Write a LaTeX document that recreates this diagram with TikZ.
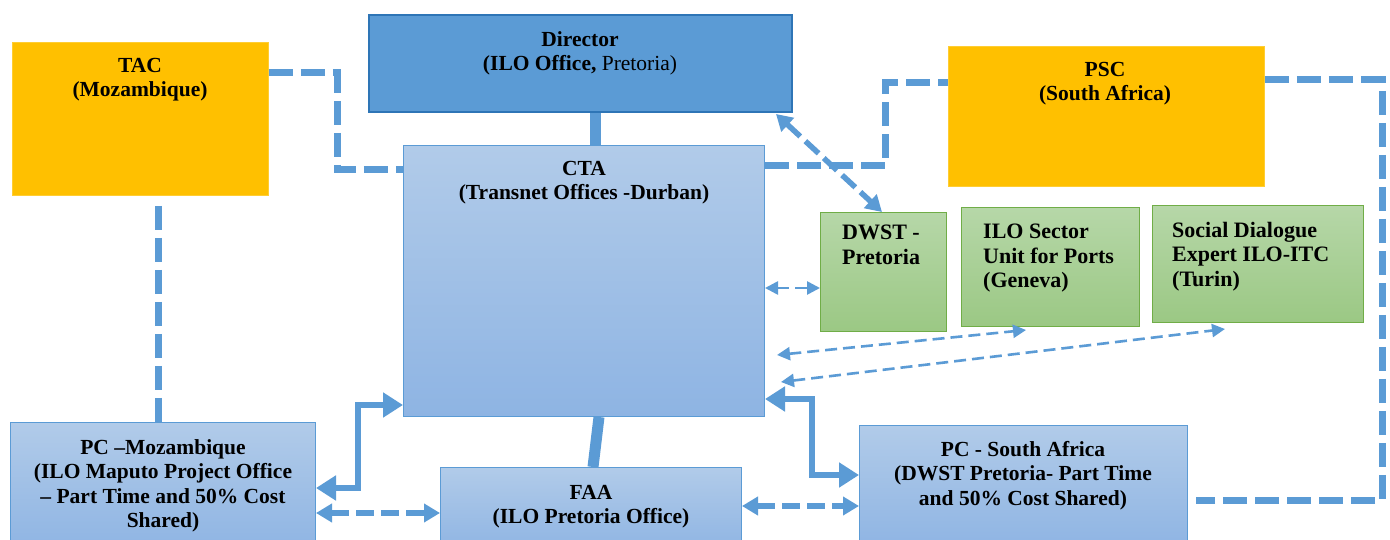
\documentclass[tikz,border=0pt]{standalone}
\usepackage{fontspec}
\setmainfont{Liberation Serif}
\usetikzlibrary{arrows.meta,calc}
\definecolor{orng}{HTML}{FFC000}
\definecolor{dirblue}{HTML}{5B9BD5}
\definecolor{dirborder}{HTML}{2E75B6}
\definecolor{lbtop}{HTML}{B1CBE9}
\definecolor{lbbot}{HTML}{8EB4E3}
\definecolor{gtop}{HTML}{B6D7A8}
\definecolor{gbot}{HTML}{9BC884}
\definecolor{gborder}{HTML}{70AD47}
\definecolor{conn}{HTML}{5B9BD5}
\tikzset{
  base/.style={rectangle, inner sep=0pt, anchor=north west},
  orangebox/.style={base, fill=orng, draw=orng!80!white, line width=0.8pt},
  dirbox/.style={base, fill=dirblue, draw=dirborder, line width=2pt},
  bluebox/.style={base, top color=lbtop, bottom color=lbbot, draw=conn, line width=1pt},
  greenbox/.style={base, top color=gtop, bottom color=gbot, draw=gborder, line width=1.2pt},
  txt/.style={anchor=north, align=center, inner sep=0pt, font=\bfseries\fontsize{21.5}{24.5}\selectfont},
  gtxt/.style={anchor=north west, align=left, inner sep=0pt, font=\bfseries\fontsize{22}{24.5}\selectfont},
  thickdash/.style={draw=conn, line width=7pt, dash pattern=on 24pt off 8pt},
  solidline/.style={draw=conn, line width=11pt},
  bigtips/.style={draw=conn, line width=6.5pt, {Triangle[length=20pt,width=24pt]}-{Triangle[length=20pt,width=24pt]}},
  dashtips/.style={draw=conn, line width=5.5pt, dash pattern=on 18pt off 7pt, {Triangle[length=16pt,width=18pt]}-{Triangle[length=16pt,width=18pt]}},
  thintips/.style={draw=conn, line width=2.6pt, dash pattern=on 12pt off 6pt, {Triangle[length=13pt,width=13pt]}-{Triangle[length=13pt,width=13pt]}},
}
\begin{document}
\begin{tikzpicture}[x=1pt,y=-1pt]
\useasboundingbox (0,0) rectangle (1390,540);
\clip (0,0) rectangle (1390,540);
\fill[white] (0,0) rectangle (1390,540);

% boxes
\node[orangebox, minimum width=256pt, minimum height=153pt] (TAC) at (12,42) {};
\node[dirbox, minimum width=423pt, minimum height=97pt] (DIR) at (368,14) {};
\node[bluebox, minimum width=361pt, minimum height=271pt] (CTA) at (403,145) {};
\node[orangebox, minimum width=316pt, minimum height=140pt] (PSC) at (948,46) {};
\node[greenbox, minimum width=126pt, minimum height=119pt] (DWST) at (820,212) {};
\node[greenbox, minimum width=178pt, minimum height=119pt] (ILO) at (961,207) {};
\node[greenbox, minimum width=211pt, minimum height=117pt] (SDE) at (1152,205) {};
\node[bluebox, minimum width=305pt, minimum height=130pt] (PCM) at (10,422) {};
\node[bluebox, minimum width=301pt, minimum height=85pt] (FAA) at (440,467) {};
\node[bluebox, minimum width=328pt, minimum height=125pt] (PCS) at (859,425) {};

% texts
\node[txt] (TACt) at (140,58) {TAC\\(Mozambique)};
\node[txt] (DIRt) at (580,31) {Director\\(ILO Office, \mdseries Pretoria)};
\node[txt] (CTAt) at (584,161) {CTA\\(Transnet Offices -Durban)};
\node[txt] (PSCt) at (1105,62) {PSC\\(South Africa)};
\node[gtxt] (DWSTt) at (842,225) {DWST -\\Pretoria};
\node[gtxt] (ILOt) at (983,224) {ILO Sector\\Unit for Ports\\(Geneva)};
\node[gtxt] (SDEt) at (1172,222) {Social Dialogue\\Expert ILO-ITC\\(Turin)};
\node[txt] (PCMt) at (163,439) {PC --Mozambique\\(ILO Maputo Project Office\\-- Part Time and 50\% Cost\\Shared)};
\node[txt] (FAAt) at (591,485) {FAA\\(ILO Pretoria Office)};
\node[txt] (PCSt) at (1023,441) {PC - South Africa\\(DWST Pretoria- Part Time\\and 50\% Cost Shared)};

% helper coordinates
\coordinate (y73) at (0,73);
\coordinate (y170) at (0,170);
\coordinate (y166) at (0,166);
\coordinate (y83) at (0,83);
\coordinate (y80) at (0,80);
\coordinate (y500) at (0,500);
\coordinate (x158) at (158,0);
\coordinate (x595) at (595,0);
\coordinate (y405) at (0,405);
\coordinate (y488) at (0,488);
\coordinate (y399) at (0,399);
\coordinate (y475) at (0,475);
\coordinate (y513) at (0,513);
\coordinate (y506) at (0,506);
\coordinate (y288) at (0,288);

% solid vertical lines
\draw[solidline] (DIR.south -| x595) -- (CTA.north -| x595);
\draw[solidline] ($(CTA.south -| x595)+(4,0)$) -- ($(FAA.north -| x595)+(-2,0)$);

% dashed elbow connectors
\draw[thickdash] (TAC.east |- y73) -| (337,170) -- (CTA.west |- y170);
\draw[thickdash] ($(TAC.south -| x158)+(0,10)$) -- (PCM.north -| x158);
\draw[thickdash] (CTA.east |- y166) -| (885,83) -- (PSC.west |- y83);
\draw[thickdash] (PSC.east |- y80) -| (1382,500) -- ($(PCS.east |- y500)+(8,0)$);

% thick solid double arrows
\draw[bigtips] (CTA.west |- y405) -| (358,488) -- (PCM.east |- y488);
\draw[bigtips] (CTA.east |- y399) -| (812,475) -- (PCS.west |- y475);

% dashed double arrows
\draw[dashtips] (776,114) -- (882,212);
\draw[dashtips] (PCM.east |- y513) -- (FAA.west |- y513);
\draw[dashtips] (FAA.east |- y506) -- (PCS.west |- y506);

% thin dashed double arrows
\draw[thintips] (CTA.east |- y288) -- (DWST.west |- y288);
\draw[thintips] (777,355) -- (1026,330);
\draw[thintips] (781,382) -- (1225,329);
\end{tikzpicture}
\end{document}
